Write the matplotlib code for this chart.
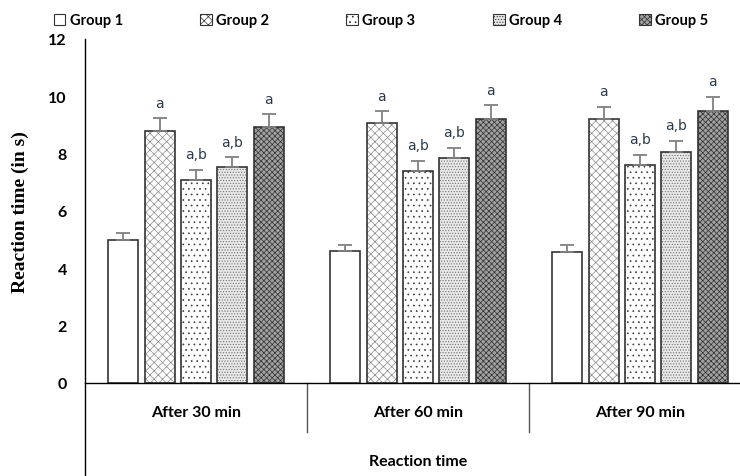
import matplotlib
matplotlib.use("Agg")
import matplotlib.pyplot as plt
from matplotlib.patches import Patch
import numpy as np

# data
categories = ["After 30 min", "After 60 min", "After 90 min"]
groups = ["Group 1", "Group 2", "Group 3", "Group 4", "Group 5"]
g1 = [5.00, 4.62, 4.58]
g2 = [8.80, 9.06, 9.22]
g3 = [7.09, 7.38, 7.62]
g4 = [7.55, 7.85, 8.05]
g5 = [8.94, 9.22, 9.50]
e1 = [0.23, 0.21, 0.24]
e2 = [0.44, 0.42, 0.42]
e3 = [0.34, 0.37, 0.33]
e4 = [0.33, 0.36, 0.40]
e5 = [0.44, 0.47, 0.49]
letters1 = ["", "", ""]
letters2 = ["a", "a", "a"]
letters3 = ["a,b", "a,b", "a,b"]
letters4 = ["a,b", "a,b", "a,b"]
letters5 = ["a", "a", "a"]

values = [g1, g2, g3, g4, g5]
errors = [e1, e2, e3, e4, e5]
letters = [letters1, letters2, letters3, letters4, letters5]

# fill / hatch styles per group
faces = ["white", "white", "white", "#e8e8e8", "#a0a0a0"]
hatches = [None, "xxxx", "...", "......", "xxxxxx"]
hatch_cols = ["white", "#8a8a8a", "#404040", "#707070", "#303030"]

plt.rcParams["hatch.linewidth"] = 0.5
sans = ["Lato", "DejaVu Sans"]

fig = plt.figure(figsize=(7.4, 4.77), dpi=100)
ax = fig.add_axes([85 / 740, 93 / 477, 666 / 740, 344 / 477])

x = np.arange(len(categories))
step = 0.164
width = 0.135

for i in range(5):
    pos = x + (i - 2) * step
    # hatch layer
    ax.bar(pos, values[i], width, color=faces[i], hatch=hatches[i],
           edgecolor=hatch_cols[i], linewidth=0, zorder=2)
    # outline layer
    ax.bar(pos, values[i], width, fill=False, edgecolor="#333333",
           linewidth=1.2, zorder=3)
    ax.errorbar(pos, values[i], yerr=[np.zeros(3), errors[i]], fmt="none",
                ecolor="#808080", elinewidth=1.3, capsize=5, capthick=1.3, zorder=4)
    for p, v, e, t in zip(pos, values[i], errors[i], letters[i]):
        if t:
            ax.text(p, v + e + 0.3, t, ha="center", va="bottom", fontsize=10,
                    color="#2b3a4a", family=["DejaVu Sans"])

ax.set_xlim(-0.5, 2.5)
ax.set_ylim(0, 12)
ax.set_yticks(range(0, 13, 2))
ax.tick_params(axis="y", length=0, pad=13)
for lab in ax.get_yticklabels():
    lab.set_fontfamily(sans)
    lab.set_fontweight("bold")
    lab.set_fontsize(11.5)
ax.set_xticks([])
for s in ["top", "right", "bottom", "left"]:
    ax.spines[s].set_visible(False)

# axis lines in excel style
ax.plot([-0.5, 2.5], [0, 0], color="black", lw=1, clip_on=False, zorder=5)
ax.plot([0, 0], [-0.27, 1], transform=ax.transAxes, color="black", lw=1,
        clip_on=False)
for b in [0.5, 1.5]:
    ax.plot([b, b], [0, -0.142], transform=ax.get_xaxis_transform(),
            color="#555555", lw=1, clip_on=False)
for xi, c in zip(x, categories):
    ax.text(xi, -0.084, c, transform=ax.get_xaxis_transform(), ha="center",
            va="center", fontsize=11.5, fontweight="bold", family=sans)
ax.text(1.0, -0.227, "Reaction time", transform=ax.get_xaxis_transform(),
        ha="center", va="center", fontsize=11.5, fontweight="bold", family=sans)

ax.set_ylabel("Reaction time (in s)", fontsize=14, fontweight="bold",
              family="Liberation Serif", labelpad=14)

handles = [Patch(facecolor=faces[i], hatch=hatches[i], edgecolor="#333333",
                 linewidth=0.8) for i in range(5)]
fig.legend(handles, groups, loc="center", bbox_to_anchor=(0.515, 0.955),
           ncol=5, frameon=False, handlelength=0.8, handleheight=0.8,
           handletextpad=0.3, columnspacing=5.3,
           prop={"family": sans, "weight": "bold", "size": 10.5})

fig.savefig("out.png", dpi=100)
